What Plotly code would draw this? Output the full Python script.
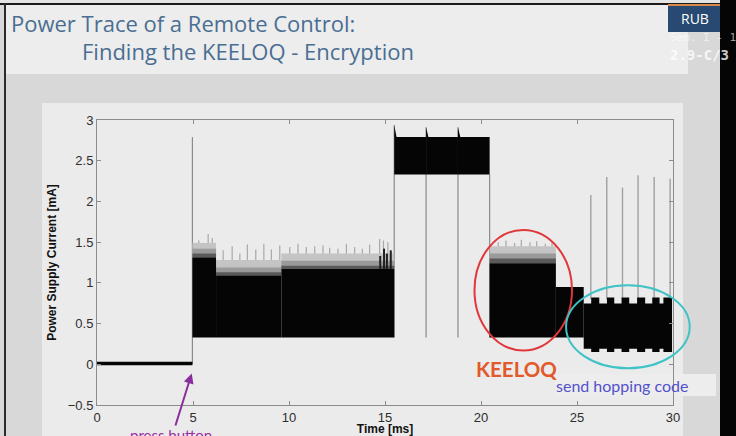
import plotly.graph_objects as go

W, H = 736, 436
L, R, T, B = 97, 63, 120, 31
PW, PH = W - L - R, H - T - B


def px(x):
    return (x - L) / PW


def py(y):
    return (H - B - y) / PH


X0, X1, Y0, Y1 = 0.0, 30.0, -0.5, 3.0


def dx(v):
    return (v - X0) / (X1 - X0)


def dy(v):
    return (v - Y0) / (Y1 - Y0)


# ---------------- data ----------------
# black core blocks of the trace [ms] / [mA]
blk_t0 = [0.0, 4.97, 6.2, 9.6, 20.45, 23.9]
blk_t1 = [4.97, 6.2, 9.6, 15.48, 23.9, 25.35]
blk_lo = [-0.012, 0.33, 0.33, 0.33, 0.33, 0.33]
blk_hi = [0.03, 1.31, 1.09, 1.17, 1.24, 0.95]

# high-current pulses (15.5 - 20.5 ms)
hb_t0 = [15.48, 17.14, 18.8]
hb_t1 = [17.14, 18.8, 20.45]
hb_lo = [2.33, 2.33, 2.33]
hb_hi = [2.79, 2.79, 2.79]
hb_peak = [2.94, 2.91, 2.91]

# grey fringe above the black core (dark -> light layers)
fr_t0 = [4.97, 6.2, 9.6, 20.45]
fr_t1 = [6.2, 9.6, 15.48, 23.9]
fr_base = [1.31, 1.09, 1.17, 1.24]
fr_l1 = [1.36, 1.13, 1.21, 1.30]
fr_l2 = [1.42, 1.19, 1.27, 1.36]
fr_top = [1.49, 1.28, 1.36, 1.45]

# thin noise spikes on top of the fringe
spk_x = [5.3, 5.79, 6.0, 6.57, 7.04, 7.44, 7.83, 8.27, 8.69, 9.08, 9.52,
         10.04, 10.47, 10.9, 11.34, 11.77, 12.12, 12.55, 12.99, 13.42,
         13.82, 14.2, 14.72, 14.92, 15.15, 15.32,
         20.9, 21.3, 21.75, 22.1, 22.55, 22.9, 23.35, 23.7]
spk_top = [1.52, 1.60, 1.55, 1.40, 1.45, 1.36, 1.47, 1.41, 1.48, 1.41, 1.46,
           1.44, 1.48, 1.44, 1.45, 1.46, 1.43, 1.42, 1.48, 1.44,
           1.42, 1.47, 1.54, 1.52, 1.50, 1.38,
           1.50, 1.52, 1.49, 1.53, 1.50, 1.51, 1.48, 1.50]
spk_base = [1.31, 1.31, 1.31, 1.09, 1.09, 1.09, 1.09, 1.09, 1.09, 1.09, 1.09,
            1.17, 1.17, 1.17, 1.17, 1.17, 1.17, 1.17, 1.17, 1.17,
            1.17, 1.17, 1.17, 1.17, 1.17, 1.17,
            1.24, 1.24, 1.24, 1.24, 1.24, 1.24, 1.24, 1.24]

# dark bursts at the end of the first active phase
drk_x = [14.75, 14.95, 15.1, 15.3]
drk_top = [1.33, 1.42, 1.36, 1.40]

# tall thin transients
tall_x = [4.97, 15.48, 17.14, 18.8, 20.45]
tall_lo = [0.0, 0.33, 0.33, 0.33, 0.33]
tall_hi = [2.79, 2.94, 2.91, 2.91, 2.33]

# "send hopping code" phase: step edges with alternating levels
hop_edges = [25.35, 25.74, 26.16, 26.56, 26.94, 27.32, 27.72, 28.13, 28.55,
             28.92, 29.3, 29.5, 29.95]
hop_top = [0.745, 0.82, 0.745, 0.82, 0.745, 0.82, 0.745, 0.82, 0.745, 0.82,
           0.745, 0.82]
hop_bot = [0.19, 0.15, 0.19, 0.15, 0.19, 0.15, 0.19, 0.15, 0.19, 0.15,
           0.19, 0.15]
hop_spk_x = [25.72, 26.55, 27.37, 28.18, 29.02, 29.85]
hop_spk_top = [2.08, 2.30, 2.17, 2.32, 2.30, 2.28]

x_ticks = [0, 5, 10, 15, 20, 25, 30]
y_ticks = [-0.5, 0, 0.5, 1, 1.5, 2, 2.5, 3]
y_tick_text = ["\u22120.5", "0", "0.5", "1", "1.5", "2", "2.5", "3"]

# ---------------- figure ----------------
fig = go.Figure()


def poly(xs, ys, color):
    fig.add_trace(go.Scatter(x=xs, y=ys, fill="toself", fillcolor=color,
                             mode="lines", line=dict(width=0, color=color),
                             hoverinfo="skip", showlegend=False))


def vlines(xs, lo, hi, color, width):
    lx, ly = [], []
    for x, a, b in zip(xs, lo, hi):
        lx += [x, x, None]
        ly += [a, b, None]
    fig.add_trace(go.Scatter(x=lx, y=ly, mode="lines",
                             line=dict(color=color, width=width),
                             hoverinfo="skip", showlegend=False))


vlines(tall_x, tall_lo, tall_hi, "#8a8a8a", 1.2)
vlines(spk_x, spk_base, spk_top, "#a8a8a8", 1.2)
vlines(hop_spk_x, [0.8] * len(hop_spk_x), hop_spk_top, "#a0a0a0", 1.4)

for t0, t1, b, l1, l2, tp in zip(fr_t0, fr_t1, fr_base, fr_l1, fr_l2, fr_top):
    poly([t0, t1, t1, t0, t0], [b, b, tp, tp, b], "#c4c4c4")
    poly([t0, t1, t1, t0, t0], [b, b, l2, l2, b], "#9a9a9a")
    poly([t0, t1, t1, t0, t0], [b, b, l1, l1, b], "#5a5a5a")

vlines(drk_x, [1.17] * len(drk_x), drk_top, "#202020", 2)

for t0, t1, lo, hi in zip(blk_t0, blk_t1, blk_lo, blk_hi):
    poly([t0, t1, t1, t0, t0], [lo, lo, hi, hi, lo], "#050505")

for t0, t1, lo, hi, pk in zip(hb_t0, hb_t1, hb_lo, hb_hi, hb_peak):
    poly([t0, t0, t0 + 0.12, t1, t1, t0],
         [lo, pk, hi, hi, lo, lo], "#050505")

hx, hy = [], []
for i in range(len(hop_top)):
    hx += [hop_edges[i], hop_edges[i + 1]]
    hy += [hop_top[i], hop_top[i]]
for i in reversed(range(len(hop_bot))):
    hx += [hop_edges[i + 1], hop_edges[i]]
    hy += [hop_bot[i], hop_bot[i]]
poly(hx + [hx[0]], hy + [hy[0]], "#050505")

# ---------------- slide background ----------------
shapes = []


def rect(x0, y0, x1, y1, color, layer="below"):
    shapes.append(dict(type="rect", xref="paper", yref="paper",
                       x0=px(x0), x1=px(x1), y0=py(y1), y1=py(y0),
                       fillcolor=color, line=dict(width=0), layer=layer))


rect(0, 0, 736, 436, "#d8d8d8")
rect(0, 0, 720, 4, "#e4e4e4")
rect(5, 5, 688, 74, "#ecedec")
rect(42, 103, 683, 436, "#ebebeb")
rect(0, 3, 720, 5, "#1a1a1a")
rect(4, 3, 6, 436, "#2a2a2a")
rect(555, 374, 716, 396, "#ededed")
rect(720, 0, 736, 436, "#050505", layer="above")
rect(668, 5, 720, 32, "#284a72", layer="above")
rect(668, 4, 720, 6, "#d98a4a", layer="above")

# ellipses (paper-referenced so they are not clipped)
shapes.append(dict(type="circle", xref="paper", yref="paper",
                   x0=dx(19.66), x1=dx(24.74), y0=dy(0.17), y1=dy(1.65),
                   line=dict(color="#e0383a", width=2)))
shapes.append(dict(type="circle", xref="paper", yref="paper",
                   x0=dx(24.43), x1=dx(30.87), y0=dy(-0.05), y1=dy(0.97),
                   line=dict(color="#3ec3c6", width=2)))

annotations = [
    dict(text="Power Trace of a Remote Control:", x=px(9), y=py(23),
         font=dict(family="Open Sans", size=22, color="#4a6e93")),
    dict(text="Finding the KEELOQ - Encryption", x=px(80), y=py(51),
         font=dict(family="Open Sans", size=22, color="#4a6e93")),
    dict(text="RUB", x=px(679), y=py(18),
         font=dict(family="Open Sans", size=14, color="#ffffff")),
    dict(text="Sem. I - 1", x=px(668), y=py(37),
         font=dict(family="DejaVu Sans Mono", size=11,
                   color="rgba(255,255,255,0.6)")),
    dict(text="<b>2.9-C/3</b>", x=px(668), y=py(55),
         font=dict(family="DejaVu Sans Mono", size=14,
                   color="rgba(255,255,255,0.8)")),
    dict(text="<b>KEELOQ</b>", x=px(474), y=py(369),
         font=dict(family="Lato", size=20.5, color="#e2592a")),
    dict(text="send hopping code", x=px(554), y=py(385),
         font=dict(family="Lato", size=16, color="#5252cc")),
    dict(text="press button", x=px(128), y=py(435),
         font=dict(family="Lato", size=15, color="#9a2fa3")),
]
for a in annotations:
    a.update(xref="paper", yref="paper", xanchor="left", yanchor="middle",
             showarrow=False)
annotations.append(dict(xref="paper", yref="paper", x=px(191.7), y=py(373.5),
                        ax=-16.7, ay=53.5, text="", showarrow=True,
                        arrowhead=2, arrowsize=1, arrowwidth=2,
                        arrowcolor="#8a2d9e"))

axis_common = dict(showline=True, linecolor="#8c8c8c", linewidth=1,
                   mirror="ticks", ticks="inside", ticklen=4,
                   tickcolor="#8c8c8c", showgrid=False, zeroline=False,
                   automargin=False,
                   tickfont=dict(family="Liberation Sans", size=13,
                                 color="#2e2e2e"))

fig.update_layout(
    width=W, height=H, autosize=False,
    margin=dict(l=L, r=R, t=T, b=B, pad=0),
    paper_bgcolor="#d8d8d8", plot_bgcolor="#efefef",
    shapes=shapes, annotations=annotations,
    xaxis=dict(range=[X0, X1], tickvals=x_ticks,
               title=dict(text="<b>Time [ms]</b>", standoff=2,
                          font=dict(family="Liberation Sans", size=12,
                                    color="#111111")),
               **axis_common),
    yaxis=dict(range=[Y0, Y1], tickvals=y_ticks, ticktext=y_tick_text,
               title=dict(text="<b>Power Supply Current [mA]</b>", standoff=8,
                          font=dict(family="Liberation Sans", size=12,
                                    color="#111111")),
               **axis_common),
)

fig.write_html("out.html",
               config={"displayModeBar": False},
               post_script="document.body.style.margin='0';"
                           "document.body.style.overflow='hidden';")
